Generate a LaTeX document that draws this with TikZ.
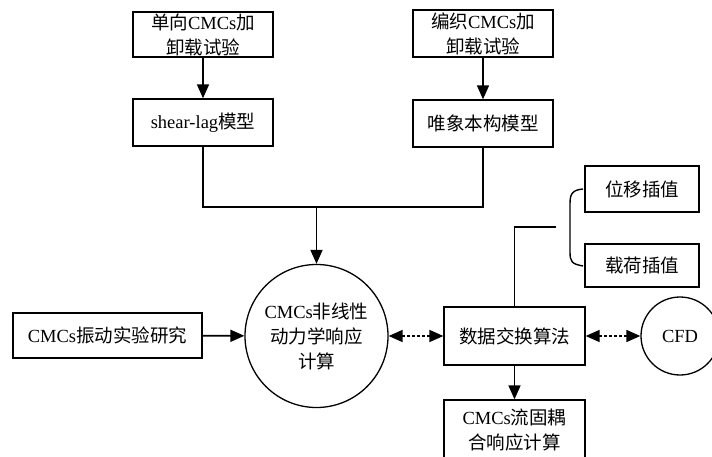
\documentclass[tikz,border=0pt]{standalone}
\usepackage{fontspec}
\setmainfont{Liberation Serif}
\newfontfamily\cjk{Noto Sans CJK SC}
\usetikzlibrary{arrows.meta}
\tikzset{
  box/.style={shape=rectangle, draw, line width=1.3pt, inner sep=0pt, align=center},
  ball/.style={shape=circle, draw, line width=1.3pt, inner sep=0pt, align=center},
  flow/.style={line width=1.6pt, -{Triangle[length=14pt, width=12pt]}},
  link/.style={line width=1.6pt},
  swap/.style={line width=1.6pt, dash pattern=on 3pt off 2pt,
    {Triangle[length=14pt, width=12pt]}-{Triangle[length=14pt, width=12pt]}}
}
\begin{document}
\begin{tikzpicture}[x=1pt, y=-1pt, font=\fontsize{18.5}{25}\selectfont]
\useasboundingbox (0, 0) rectangle (712, 457);
\node at (203, 34.5) [box, minimum width=140, minimum height=45] (uniload) {{\cjk 单向}CMCs{\cjk 加}\\{\cjk 卸载试验}};
\node at (203, 122.5) [box, minimum width=140, minimum height=47] (shearlag) {shear-lag{\cjk 模型}};
\node at (483, 33.5) [box, minimum width=140, minimum height=47] (wovenload) {{\cjk 编织}CMCs{\cjk 加}\\{\cjk 卸载试验}};
\node at (483, 123.5) [box, minimum width=140, minimum height=47] (consti) {\cjk 唯象本构模型};
\node at (107.5, 335.5) [box, minimum width=189, minimum height=45] (vibtest) {CMCs{\cjk 振动实验研究}};
\node at (316.5, 336) [ball, minimum size=143] (dyn) {CMCs{\cjk 非线性}\\{\cjk 动力学响应}\\{\cjk 计算}};
\node at (514.5, 336) [box, minimum width=141, minimum height=58] (exch) {\cjk 数据交换算法};
\node at (642, 189) [box, minimum width=114, minimum height=46] (dispint) {\cjk 位移插值};
\node at (642, 265.5) [box, minimum width=114, minimum height=43] (loadint) {\cjk 载荷插值};
\node at (680, 336) [ball, minimum size=78] (cfd) {CFD};
\node at (514.5, 430) [box, minimum width=141, minimum height=60] (fsi) {CMCs{\cjk 流固耦}\\{\cjk 合响应计算}};
\coordinate (join) at (316.5, 207);
\coordinate (tip) at (556, 227);
\draw [flow] (uniload) to (shearlag);
\draw [flow] (wovenload) to (consti);
\draw [link] (shearlag.south) |- (join);
\draw [link] (consti.south) |- (join);
\draw [flow] (join) to (dyn.north);
\draw [flow] (vibtest) to (dyn);
\draw [swap] (dyn) to (exch);
\draw [swap] (exch) to (cfd);
\draw [flow] (exch) to (fsi);
\draw [link] (exch.north) |- (tip);
% bracket for the two interpolations
\draw [line width=1.4pt] (583, 189) .. controls (572, 190) and (570, 194) .. (570, 204)
  -- (570, 252) .. controls (570, 262) and (572, 264) .. (583, 266);
\end{tikzpicture}
\end{document}
